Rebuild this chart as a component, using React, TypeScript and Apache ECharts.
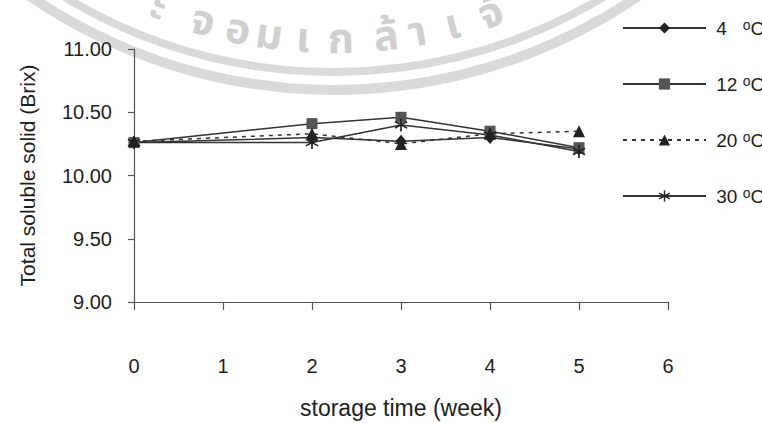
import React, { useEffect, useRef } from "react";
import * as echarts from "echarts";

const weeks = [0, 2, 3, 4, 5];
const seriesNames = ["4", "12", "20", "30"];
const t4 = [10.26, 10.30, 10.27, 10.30, 10.21];
const t12 = [10.26, 10.41, 10.46, 10.35, 10.22];
const t20 = [10.27, 10.33, 10.25, 10.33, 10.35];
const t30 = [10.26, 10.26, 10.40, 10.32, 10.19];
const yTicks = [9, 9.5, 10, 10.5, 11];
const xTicks = [0, 1, 2, 3, 4, 5, 6];
const watermarkChars = ["ะ", "จ", "อ", "ม", "เ", "ก", "ล้", "า", "เ", "จ้"];

const FONT = "'Liberation Sans', Arial, sans-serif";
const INK = "#1e1e1e";

const asterisk =
  "path://M-0.6,-5L0.6,-5L0.6,5L-0.6,5Z" +
  "M4.63,1.98L4.03,3.02L-4.63,-1.98L-4.03,-3.02Z" +
  "M-4.63,1.98L4.03,-3.02L4.63,-1.98L-4.03,3.02Z";

export default function App() {
  const ref = useRef<HTMLDivElement>(null);
  useEffect(() => {
    if (!ref.current) return;
    const chart = echarts.init(ref.current, null, { renderer: "svg" });
    const pair = (arr: number[]) => weeks.map((w, i) => [w, arr[i]]);
    const dataSets = [t4, t12, t20, t30];
    const symbols = ["diamond", "rect", "triangle", asterisk];
    const sizes = [[11, 13], 11, 12, 13];
    const colors = ["#222", "#555", "#222", "#222"];

    // watermark: two light rings and Thai lettering along the inner side
    const cx = 334, cy = -450;
    const angles = [111, 105.5, 101.3, 97.6, 93.6, 89.2, 83.9, 80.2, 76, 71.3];
    const wm = watermarkChars.map((ch, i) => {
      const a = (angles[i] * Math.PI) / 180;
      return {
        type: "text",
        x: cx + 490 * Math.cos(a),
        y: cy + 490 * Math.sin(a),
        rotation: -(a - Math.PI / 2),
        silent: true,
        z: -10,
        style: {
          text: ch,
          fill: "#d0d0d0",
          font: `bold 42px 'Noto Sans Thai', 'Noto Sans', 'DejaVu Sans', sans-serif`,
          align: "center",
          verticalAlign: "middle",
        },
      };
    });

    chart.setOption({
      animation: false,
      backgroundColor: "#fff",
      graphic: [
        {
          type: "circle",
          z: -20,
          silent: true,
          shape: { cx, cy, r: 540 },
          style: { fill: "none", stroke: "#dadada", lineWidth: 10 },
        },
        {
          type: "circle",
          z: -20,
          silent: true,
          shape: { cx, cy, r: 522 },
          style: { fill: "none", stroke: "#dadada", lineWidth: 8 },
        },
        ...wm,
      ],
      grid: { left: 134, right: 94, top: 49, bottom: 121, containLabel: false, outerBoundsMode: "none" },
      legend: {
        orient: "vertical",
        left: 617,
        top: 13,
        itemWidth: 83,
        itemHeight: 14,
        itemGap: 36,
        textStyle: {
          fontFamily: FONT,
          fontSize: 19,
          color: INK,
          lineHeight: 20,
          rich: {
            n: { fontFamily: FONT, fontSize: 19, color: INK, lineHeight: 20 },
            s: { fontFamily: FONT, fontSize: 14, color: INK, lineHeight: 18, verticalAlign: "top" },
          },
        },
        formatter: (name: string) => `{n|${name === "4" ? " 4   " : " " + name + " "}}{s|o}{n|C}`,
        data: seriesNames,
      },
      xAxis: {
        type: "value",
        min: 0,
        max: 6,
        interval: 1,
        name: "storage time (week)",
        nameLocation: "middle",
        nameGap: 94,
        nameTextStyle: { fontFamily: FONT, fontSize: 23, color: INK },
        axisLine: { show: true, lineStyle: { color: "#555", width: 1.2 } },
        axisTick: { show: true, inside: false, length: 8, lineStyle: { color: "#555", width: 1.2 } },
        axisLabel: {
          fontFamily: FONT,
          fontSize: 20,
          color: INK,
          margin: 54,
          formatter: (v: number) => (xTicks.includes(v) ? String(v) : ""),
        },
        splitLine: { show: false },
      },
      yAxis: {
        type: "value",
        min: 9,
        max: 11,
        interval: 0.5,
        name: "Total soluble solid (Brix)",
        nameLocation: "middle",
        nameGap: 96,
        nameTextStyle: { fontFamily: FONT, fontSize: 21, color: INK },
        axisLine: { show: true, lineStyle: { color: "#555", width: 1.2 } },
        axisTick: { show: true, inside: false, length: 6, lineStyle: { color: "#555", width: 1.2 } },
        axisLabel: {
          fontFamily: FONT,
          fontSize: 20,
          color: INK,
          margin: 22,
          formatter: (v: number) => (yTicks.includes(v) ? v.toFixed(2) : ""),
        },
        splitLine: { show: false },
      },
      series: seriesNames.map((n, i) => ({
        name: n,
        type: "line",
        data: pair(dataSets[i]),
        symbol: symbols[i],
        symbolSize: sizes[i],
        showSymbol: true,
        itemStyle: { color: colors[i], borderWidth: 0 },
        lineStyle: { color: "#333", width: 1.5, type: i === 2 ? [4, 5] : "solid" },
      })),
    });
    return () => chart.dispose();
  }, []);
  return (
    <div
      ref={ref}
      style={{ position: "fixed", left: 0, top: 0, width: 762, height: 423 }}
    />
  );
}
